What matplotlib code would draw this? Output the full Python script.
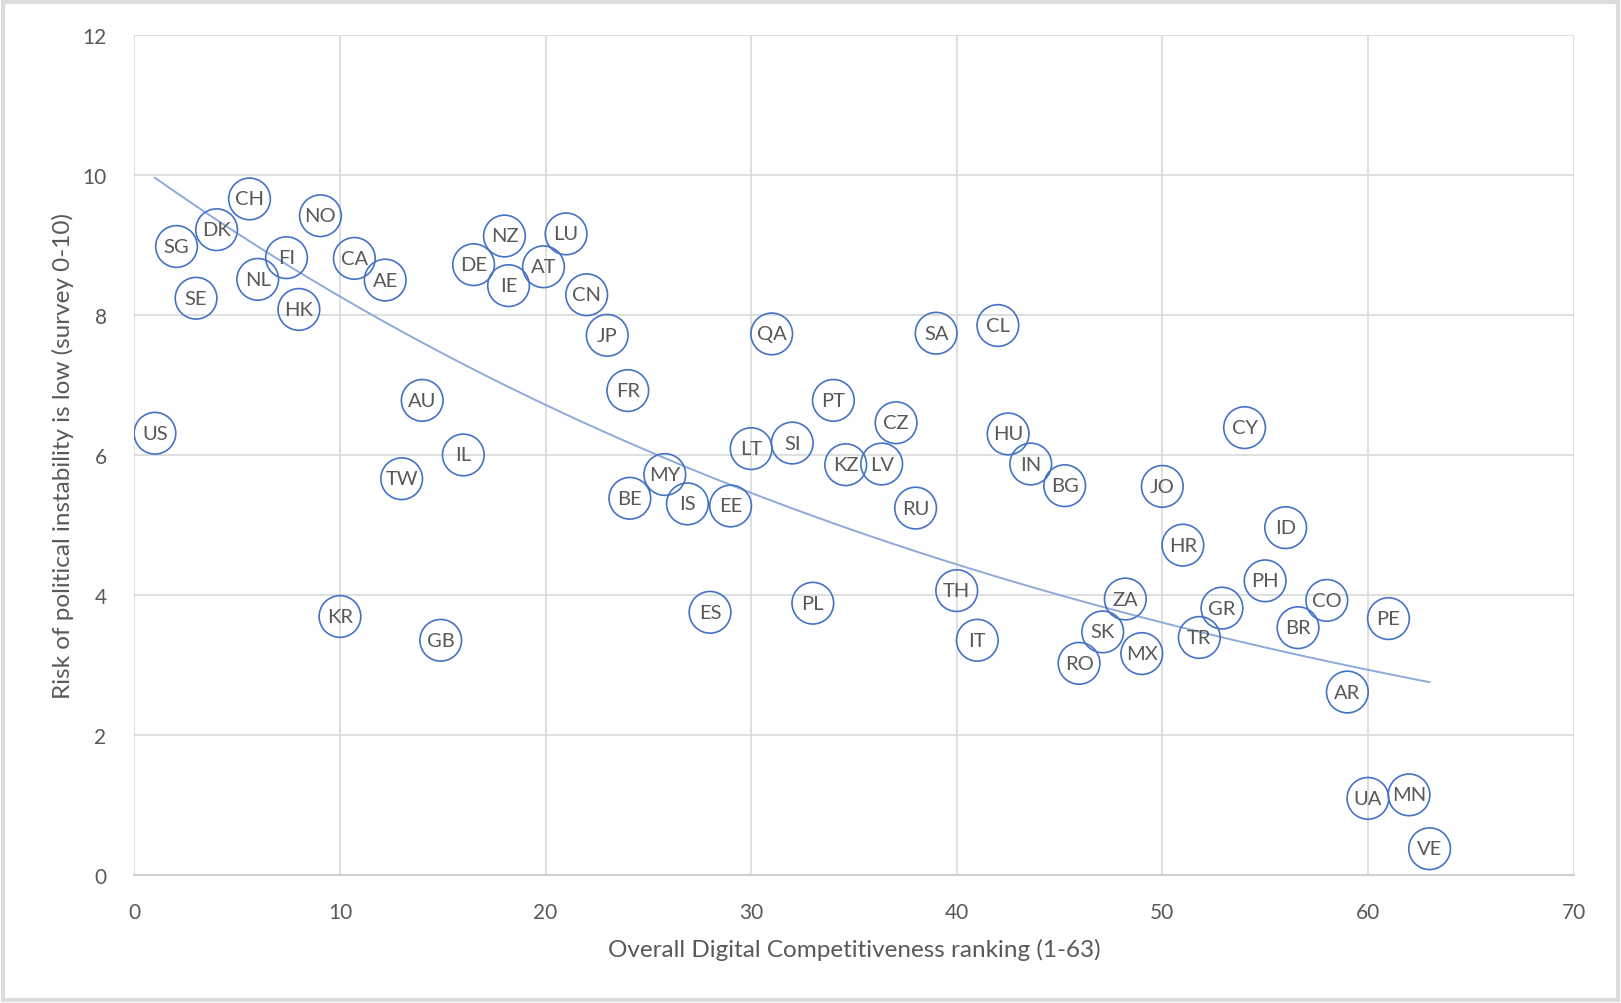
import numpy as np
import matplotlib
matplotlib.use("Agg")
import matplotlib.pyplot as plt
from matplotlib.patches import Rectangle

plt.rcParams['font.family'] = ['Lato', 'DejaVu Sans']

# country codes, digital competitiveness rank (x) and political stability survey (y)
codes = ['US', 'SG', 'SE', 'DK', 'CH', 'NL', 'FI', 'HK', 'NO', 'KR',
         'CA', 'AE', 'TW', 'AU', 'GB', 'IL', 'DE', 'NZ', 'IE', 'AT',
         'LU', 'CN', 'JP', 'FR', 'BE', 'MY', 'IS', 'ES', 'EE', 'LT',
         'QA', 'SI', 'PL', 'PT', 'KZ', 'LV', 'CZ', 'RU', 'SA', 'TH',
         'IT', 'CL', 'HU', 'IN', 'BG', 'RO', 'SK', 'ZA', 'MX', 'JO',
         'HR', 'TR', 'GR', 'CY', 'PH', 'ID', 'BR', 'CO', 'AR', 'UA',
         'PE', 'MN', 'VE']
rank = [1.0, 2.05, 3.0, 4.0, 5.6, 6.0, 7.4, 8.0, 9.05, 10.0,
        10.7, 12.2, 13.0, 14.0, 14.9, 16.0, 16.5, 18.0, 18.2, 19.9,
        21.0, 22.0, 23.0, 24.0, 24.1, 25.8, 26.9, 28.0, 29.0, 30.0,
        31.0, 32.0, 33.0, 34.0, 34.6, 36.35, 37.05, 38.0, 39.0, 40.0,
        41.0, 42.0, 42.5, 43.6, 45.25, 45.95, 47.1, 48.2, 49.0, 50.0,
        51.0, 51.8, 52.9, 54.0, 55.0, 56.0, 56.6, 58.0, 59.0, 60.0,
        61.0, 62.0, 63.0]
stability = [6.31, 8.98, 8.24, 9.22, 9.66, 8.51, 8.82, 8.08, 9.42, 3.69,
             8.81, 8.50, 5.66, 6.78, 3.35, 6.00, 8.72, 9.13, 8.42, 8.69,
             9.16, 8.29, 7.71, 6.92, 5.38, 5.72, 5.30, 3.75, 5.27, 6.09,
             7.73, 6.17, 3.88, 6.78, 5.86, 5.87, 6.46, 5.24, 7.74, 4.06,
             3.35, 7.85, 6.30, 5.87, 5.56, 3.02, 3.47, 3.94, 3.16, 5.55,
             4.71, 3.39, 3.81, 6.39, 4.20, 4.96, 3.53, 3.92, 2.61, 1.09,
             3.66, 1.14, 0.37]

x = np.array(rank)
y = np.array(stability)

fig = plt.figure(figsize=(16.21, 10.04), dpi=100)
ax = fig.add_axes([0.0829, 0.1279, 0.8878, 0.836])

grey_txt = '#595959'
grid_c = '#d9d9d9'

# exponential trendline (excel style: fit on ln y)
b, a = np.polyfit(x, np.log(y), 1)
xt = np.linspace(x.min(), x.max(), 200)
ax.plot(xt, np.exp(a + b * xt), color='#8eaadb', lw=1.4, zorder=2)

# circles with codes inside
ax.scatter(x, y, s=900, facecolors='none', edgecolors='#4472c4', linewidths=1.2, zorder=3)
for c, xi, yi in zip(codes, x, y):
    ax.text(xi, yi, c, ha='center', va='center', fontsize=14.5, color=grey_txt, zorder=4)

ax.set_xlim(0, 70)
ax.set_ylim(0, 12)
ax.set_xticks(range(0, 71, 10))
ax.set_yticks(range(0, 13, 2))
ax.grid(True, color=grid_c, lw=1.2)
ax.set_axisbelow(True)
for s in ['top', 'right', 'left']:
    ax.spines[s].set_visible(False)
ax.spines['bottom'].set_color('#d0d0d0')
ax.spines['bottom'].set_linewidth(1.5)
ax.tick_params(length=0, labelsize=15, colors=grey_txt)
ax.tick_params(axis='x', pad=20)
ax.tick_params(axis='y', pad=20)

ax.set_xlabel('Overall Digital Competitiveness ranking (1-63)', fontsize=17.5, color=grey_txt, labelpad=11)
ax.set_ylabel('Risk of political instability is low (survey 0-10)', fontsize=17.5, color=grey_txt, labelpad=6)

# chart area frame
fig.patches.append(Rectangle((0.002, 0.003), 0.996, 0.994, transform=fig.transFigure,
                             fill=False, edgecolor='#dcdcdc', lw=3))

fig.savefig('out.png', dpi=100, facecolor='white')
